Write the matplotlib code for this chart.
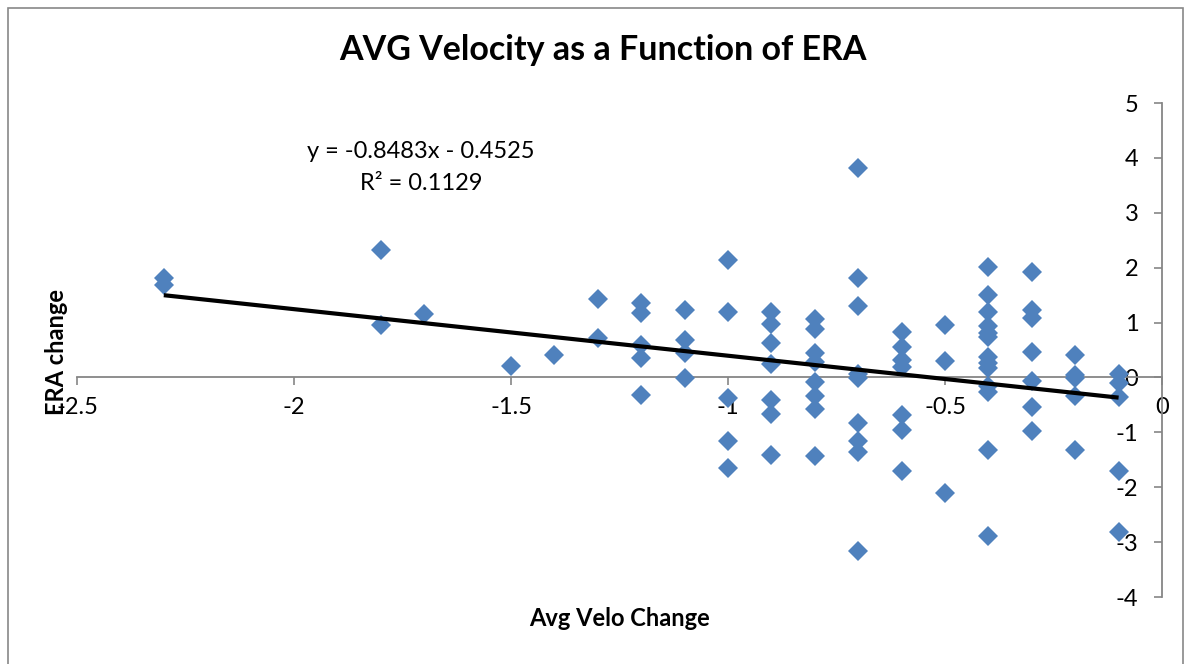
import numpy as np
import matplotlib.pyplot as plt
from matplotlib.ticker import FuncFormatter
from matplotlib.patches import Rectangle

plt.rcParams['font.family'] = ['Lato', 'DejaVu Sans']
plt.rcParams['axes.unicode_minus'] = False

# data, one line per velocity step
velo_change = ([-2.3] * 2 + [-1.8] * 2 + [-1.7] + [-1.5] + [-1.4] + [-1.3] * 2
               + [-1.2] * 5 + [-1.1] * 4 + [-1.0] * 5 + [-0.9] * 7 + [-0.8] * 8
               + [-0.7] * 9 + [-0.6] * 7 + [-0.5] * 3 + [-0.4] * 13 + [-0.3] * 7
               + [-0.2] * 5 + [-0.1] * 5)
era_change = [1.82, 1.69,
              2.33, 0.96,
              1.16,
              0.21,
              0.41,
              1.43, 0.72,
              1.36, 1.18, 0.60, 0.35, -0.32,
              1.22, 0.69, 0.44, -0.01,
              2.14, 1.20, -0.38, -1.15, -1.65,
              1.19, 0.97, 0.62, 0.25, -0.42, -0.66, -1.41,
              1.07, 0.88, 0.44, 0.29, -0.08, -0.34, -0.58, -1.44,
              3.82, 1.81, 1.30, 0.06, -0.01, -0.83, -1.16, -1.35, -3.16,
              0.83, 0.56, 0.31, 0.19, -0.68, -0.95, -1.70,
              0.95, 0.30, -2.10,
              2.01, 1.51, 1.19, 0.93, 0.81, 0.74, 0.37, 0.26, 0.17, -0.16, -0.27, -1.33, -2.89,
              1.92, 1.22, 1.09, 0.47, -0.07, -0.53, -0.97,
              0.40, 0.05, -0.01, -0.34, -1.33,
              0.06, -0.10, -0.35, -1.70, -2.81]

# trendline as printed on the chart
slope = -0.8483
intercept = -0.4525
r_squared = 0.1129

x = np.array(velo_change)
y = np.array(era_change)

fig = plt.figure(figsize=(11.91, 6.64), dpi=100)
ax = fig.add_axes((77 / 1191, 67 / 664, 1085 / 1191, 494 / 664))

ax.plot(x, y, 'D', color='#4F81BD', markersize=10.5, markeredgewidth=0, zorder=3)
x_p = np.array([x.min(), x.max()])
ax.plot(x_p, slope * x_p + intercept, '-', color='black', lw=3, zorder=4,
        solid_capstyle='butt')

ax.set_xlim(-2.5, 0)
ax.set_ylim(-4, 5)
ax.set_xticks(np.arange(-2.5, 0.01, 0.5))
ax.set_yticks(np.arange(-4, 6, 1))
fmt = FuncFormatter(lambda v, p: '%g' % round(v, 2))
ax.xaxis.set_major_formatter(fmt)
ax.yaxis.set_major_formatter(fmt)

# axes cross at zero like the spreadsheet chart
for s in ['top', 'right']:
    ax.spines[s].set_visible(False)
ax.spines['left'].set_position(('data', 0))
ax.spines['bottom'].set_position(('data', 0))
for s in ['left', 'bottom']:
    ax.spines[s].set_color('#868686')
    ax.spines[s].set_linewidth(1.3)
ax.tick_params(axis='both', direction='out', length=6, width=1.2,
               color='#868686', labelsize=17)
ax.tick_params(axis='x', pad=8)
ax.tick_params(axis='y', pad=11)
ax.patch.set_alpha(0)

fig.text(603 / 1191, 1 - 50 / 664, 'AVG Velocity as a Function of ERA', ha='center',
         va='center', fontsize=24.5, fontweight='bold')
fig.text(421 / 1191, 1 - 152 / 664, 'y = -0.8483x - 0.4525', ha='center',
         va='center', fontsize=17)
fig.text(421 / 1191, 1 - 183 / 664, 'R² = %.4f' % r_squared, ha='center',
         va='center', fontsize=17)
fig.text(619.5 / 1191, 1 - 619 / 664, 'Avg Velo Change', ha='center',
         va='center', fontsize=17, fontweight='bold')
fig.text(56 / 1191, 1 - 352 / 664, 'ERA change', ha='center', va='center',
         rotation=90, fontsize=17, fontweight='bold')

fig.patches.append(Rectangle((8 / 1191, -0.05), 1175 / 1191, 1.05 - 8 / 664,
                             transform=fig.transFigure, fill=False,
                             edgecolor='#888888', lw=1.2))

plt.savefig('out.png', dpi=100)
